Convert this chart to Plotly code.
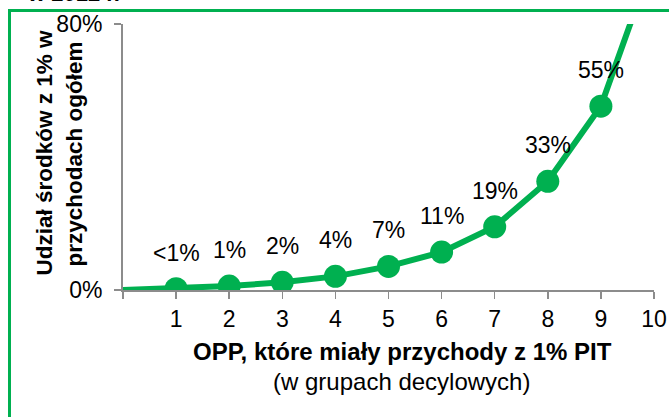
import plotly.graph_objects as go

deciles = [0, 1, 2, 3, 4, 5, 6, 7, 8, 9, 10]
shares = [0, 0.4, 1.2, 2.3, 4.1, 7.1, 11.4, 19.0, 32.7, 55.3, 100]
labels = ["", "<1%", "1%", "2%", "4%", "7%", "11%", "19%", "33%", "55%", ""]
x_tick_vals = [0, 1, 2, 3, 4, 5, 6, 7, 8, 9, 10]
x_tick_text = ["", "1", "2", "3", "4", "5", "6", "7", "8", "9", "10"]
y_tick_vals = [0, 80]
y_tick_text = ["0%", "80%"]

GREEN = "#00B050"
FONT = "Liberation Sans, Arial, sans-serif"

W, H = 669, 417
# plot area in page pixels: x 123..654, y 24..290
L, R, T, B = 123, W - 654, 24, H - 290
pw, ph = W - L - R, H - T - B

def px(x):  # page x -> paper
    return (x - L) / pw

def py(y):  # page y -> paper
    return (H - B - y) / ph

fig = go.Figure()
fig.add_trace(go.Scatter(
    x=deciles, y=shares, mode="lines",
    line=dict(color=GREEN, width=6), hoverinfo="skip", showlegend=False,
))
fig.add_trace(go.Scatter(
    x=deciles[1:10], y=shares[1:10], mode="markers",
    marker=dict(color=GREEN, size=23), hoverinfo="skip", showlegend=False,
))

for xv, yv, t in zip(deciles, shares, labels):
    if t:
        fig.add_annotation(x=xv, y=yv, text=t, showarrow=False, yshift=36,
                           xanchor="center", yanchor="middle",
                           font=dict(family=FONT, size=23, color="#000"))

# y axis title (two lines)
fig.add_annotation(xref="paper", yref="paper", x=px(43.5), y=py(153),
                   text="<b>Udział środków z 1% w</b>", textangle=-90,
                   showarrow=False, xanchor="center", yanchor="middle",
                   font=dict(family=FONT, size=22.5, color="#000"))
fig.add_annotation(xref="paper", yref="paper", x=px(73.5), y=py(154),
                   text="<b>przychodach ogółem</b>", textangle=-90,
                   showarrow=False, xanchor="center", yanchor="middle",
                   font=dict(family=FONT, size=22.5, color="#000"))
# x axis title
fig.add_annotation(xref="paper", yref="paper", x=px(402), y=py(351),
                   text="<b>OPP, które miały przychody z 1% PIT</b>",
                   showarrow=False, xanchor="center", yanchor="middle",
                   font=dict(family=FONT, size=24, color="#000"))
fig.add_annotation(xref="paper", yref="paper", x=px(401), y=py(381),
                   text="(w grupach decylowych)",
                   showarrow=False, xanchor="center", yanchor="middle",
                   font=dict(family=FONT, size=24, color="#000"))
# cut-off title
fig.add_annotation(xref="paper", yref="paper", x=px(25), y=py(7.5),
                   text="<b>w 2012 r.</b>", showarrow=False,
                   xanchor="left", yanchor="bottom",
                   font=dict(family=FONT, size=22, color="#000"))

# green frame
fig.add_shape(type="rect", xref="paper", yref="paper",
              x0=px(9.5), x1=px(720), y0=py(470), y1=py(10.5),
              line=dict(color=GREEN, width=3), fillcolor="rgba(0,0,0,0)", layer="below")

fig.update_xaxes(range=[0, 10], tickvals=x_tick_vals, ticktext=x_tick_text,
                 ticks="outside", ticklen=7, tickcolor="#8c8c8c", tickwidth=1.5,
                 showline=True, linecolor="#8c8c8c", linewidth=2,
                 showgrid=False, zeroline=False, automargin=False,
                 tickfont=dict(family=FONT, size=23, color="#000"))
fig.update_yaxes(range=[0, 80], tickvals=y_tick_vals, ticktext=y_tick_text,
                 ticks="outside", ticklen=7, tickcolor="#8c8c8c", tickwidth=1.5,
                 showline=True, linecolor="#8c8c8c", linewidth=2,
                 showgrid=False, zeroline=False, ticklabelstandoff=7,
                 automargin=False,
                 tickfont=dict(family=FONT, size=23, color="#000"))

fig.update_layout(width=W, height=H, margin=dict(l=L, r=R, t=T, b=B, autoexpand=False),
                  paper_bgcolor="white", plot_bgcolor="white", showlegend=False,
                  hovermode=False)

fig.write_html("out.html", config={"displayModeBar": False, "staticPlot": True},
               post_script="document.body.style.margin='0';document.body.style.overflow='hidden';")
